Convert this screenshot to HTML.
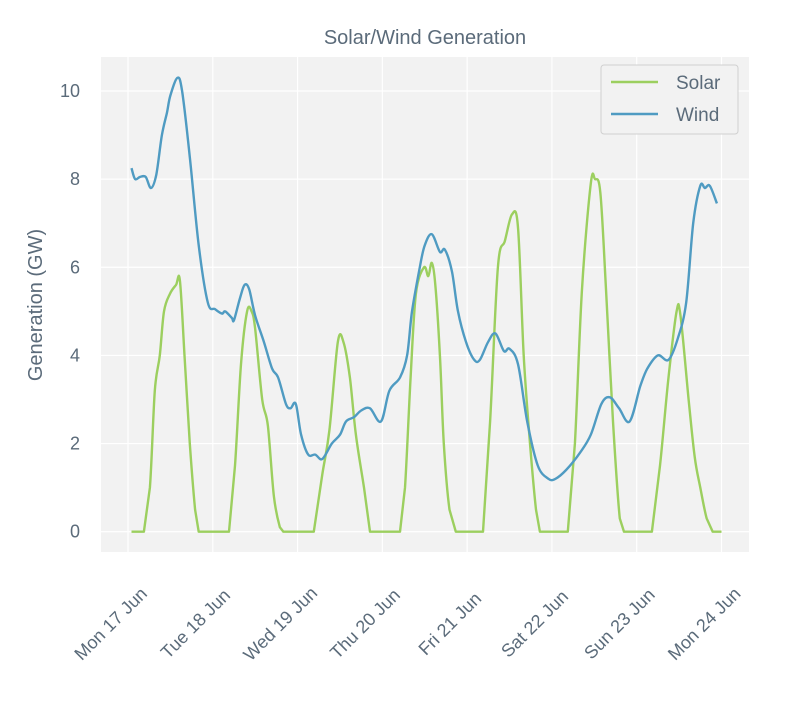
<!DOCTYPE html>
<html><head><meta charset="utf-8"><style>
body{margin:0;background:#fff;}
svg text{font-family:"Liberation Sans",Arial,sans-serif;fill:#5b6b7a;}
</style></head><body>
<svg id="chart" width="800" height="700" xmlns="http://www.w3.org/2000/svg">
<rect x="101" y="57" width="648" height="495" fill="#f2f2f2"/>
<g id="grid"></g>
<g id="series"></g>
<g id="axes"></g>
<text x="425" y="44" text-anchor="middle" font-size="20">Solar/Wind Generation</text>
<text transform="translate(42,305) rotate(-90)" text-anchor="middle" font-size="20">Generation (GW)</text>
<g>
<rect x="601" y="65" width="137" height="69" rx="3" fill="#f2f2f2" stroke="#d0d0d0"/>
<line x1="611" y1="82" x2="658" y2="82" stroke="#9ccf5f" stroke-width="2.5"/>
<text x="676" y="89" font-size="19">Solar</text>
<line x1="611" y1="114" x2="658" y2="114" stroke="#4f9bc2" stroke-width="2.5"/>
<text x="676" y="121" font-size="19">Wind</text>
</g>
</svg>
<script>
const xTickLabels=["Mon 17 Jun","Tue 18 Jun","Wed 19 Jun","Thu 20 Jun","Fri 21 Jun","Sat 22 Jun","Sun 23 Jun","Mon 24 Jun"];
const yTicks=[0,2,4,6,8,10];
const windHours=[1,2,3.4,5,6.5,8,9.6,11,12,14,15.3,17.5,20,22.6,24.6,26.6,27.5,29.4,30,31.7,33,34.3,36,38.5,40.8,42.5,44.7,46,47.5,49,51,53,55,57.7,60,61.7,64,66,68.5,71.6,74,77,79,80.4,82.6,84,86,88.3,89.7,91.7,93.4,95.7,98,99.6,101.9,104,106.4,108,110.4,113,116,119,121,124,128,131,134,136.4,139,142,145,147,150,153,155.7,158,160,162,163.3,164.7,166.7];
const windValues=[8.25,8.0,8.05,8.05,7.8,8.1,9.0,9.5,9.9,10.3,10.0,8.5,6.5,5.2,5.05,4.95,5.0,4.85,4.8,5.3,5.6,5.5,4.9,4.3,3.7,3.5,2.9,2.8,2.9,2.2,1.75,1.75,1.65,2.0,2.2,2.5,2.6,2.75,2.8,2.5,3.2,3.5,4.0,5.0,6.0,6.5,6.75,6.35,6.4,5.9,5.0,4.3,3.9,3.9,4.3,4.5,4.1,4.15,3.8,2.5,1.5,1.2,1.2,1.4,1.8,2.2,2.9,3.05,2.8,2.5,3.3,3.7,4.0,3.9,4.4,5.2,7.0,7.85,7.8,7.85,7.45];
const solarHours=[1,4.5,6.2,7.6,9,10.2,11.9,13.6,14.7,16,17.5,19,20,28.6,30.3,32,33.7,35,36,38,39.6,41.3,43,44,52.6,55,57,59.4,61,62.8,64.5,66.8,68.5,77,78.4,80,81.5,83.8,85,86,87,88.3,89.4,91,92.8,100.5,102.5,104.7,106.7,108.7,110.4,112,113.8,115.5,116.6,124.5,126.5,128.5,131,132.2,133.7,135.3,137.3,139.2,140.4,148.3,150.6,153,155.3,156.4,158.7,160.4,162,163.8,165.5,168];
const solarValues=[0,0,1.0,3.2,4.0,5.0,5.4,5.6,5.7,4.0,2.0,0.5,0,0,1.5,3.8,5.0,5.0,4.6,3.0,2.4,0.8,0.1,0,0,1.3,2.3,4.3,4.3,3.5,2.2,1.0,0,0,1.0,3.5,5.4,6.0,5.8,6.1,5.6,4.0,2.0,0.5,0,0,2.5,6.0,6.6,7.2,6.9,4.0,2.0,0.5,0,0,2.0,5.5,7.9,8.0,7.7,5.5,2.5,0.3,0,0,1.5,3.5,5.0,4.9,3.0,1.7,1.0,0.3,0,0];
const NS="http://www.w3.org/2000/svg";
function xS(h){return 128+h*(593.5/168);}
function yS(v){return 531.7-v*44.07;}
function mk(tag,attrs,parent){const e=document.createElementNS(NS,tag);for(const k in attrs)e.setAttribute(k,attrs[k]);parent.appendChild(e);return e;}
const grid=document.getElementById('grid'),axes=document.getElementById('axes'),series=document.getElementById('series');
xTickLabels.forEach((lab,i)=>{
  const x=xS(i*24);
  const l=mk('line',{x1:x,x2:x,y1:57,y2:552,stroke:'#fff','stroke-width':1.2},grid);
  
  
  const t=mk('text',{transform:`translate(${x-13},${628}) rotate(-45)`,'text-anchor':'middle','font-size':18},axes);
  t.textContent=lab;
  
  
});
yTicks.forEach(v=>{
  const y=yS(v);
  const l=mk('line',{x1:101,x2:749,y1:y,y2:y,stroke:'#fff','stroke-width':1.2},grid);
  
  
  const t=mk('text',{x:80,y:y+6,'text-anchor':'end','font-size':18},axes);
  t.textContent=v;
  
  
});
function line(hs,vs,color,name){
  const P=hs.map((h,i)=>[xS(h),yS(vs[i])]);
  let d='M'+P[0][0].toFixed(1)+','+P[0][1].toFixed(1);
  for(let i=0;i<P.length-1;i++){
    const p0=P[Math.max(0,i-1)],p1=P[i],p2=P[i+1],p3=P[Math.min(P.length-1,i+2)];
    const lo=Math.max(p1[1],p2[1])>=yS(0)-0.5;
    const k=lo?0:1/6;
    let c1=[p1[0]+(p2[0]-p0[0])*k,p1[1]+(p2[1]-p0[1])*k];
    let c2=[p2[0]-(p3[0]-p1[0])*k,p2[1]-(p3[1]-p1[1])*k];
    c1[1]=Math.min(c1[1],yS(0));c2[1]=Math.min(c2[1],yS(0));
    d+=` C${c1[0].toFixed(1)},${c1[1].toFixed(1)} ${c2[0].toFixed(1)},${c2[1].toFixed(1)} ${p2[0].toFixed(1)},${p2[1].toFixed(1)}`;
  }
  const p=mk('path',{d:d,fill:'none',stroke:color,'stroke-width':2.4,'stroke-linejoin':'round'},series);
  
  
}
line(solarHours,solarValues,'#9ccf5f','solar-line');
line(windHours,windValues,'#4f9bc2','wind-line');
</script>
</body></html>
